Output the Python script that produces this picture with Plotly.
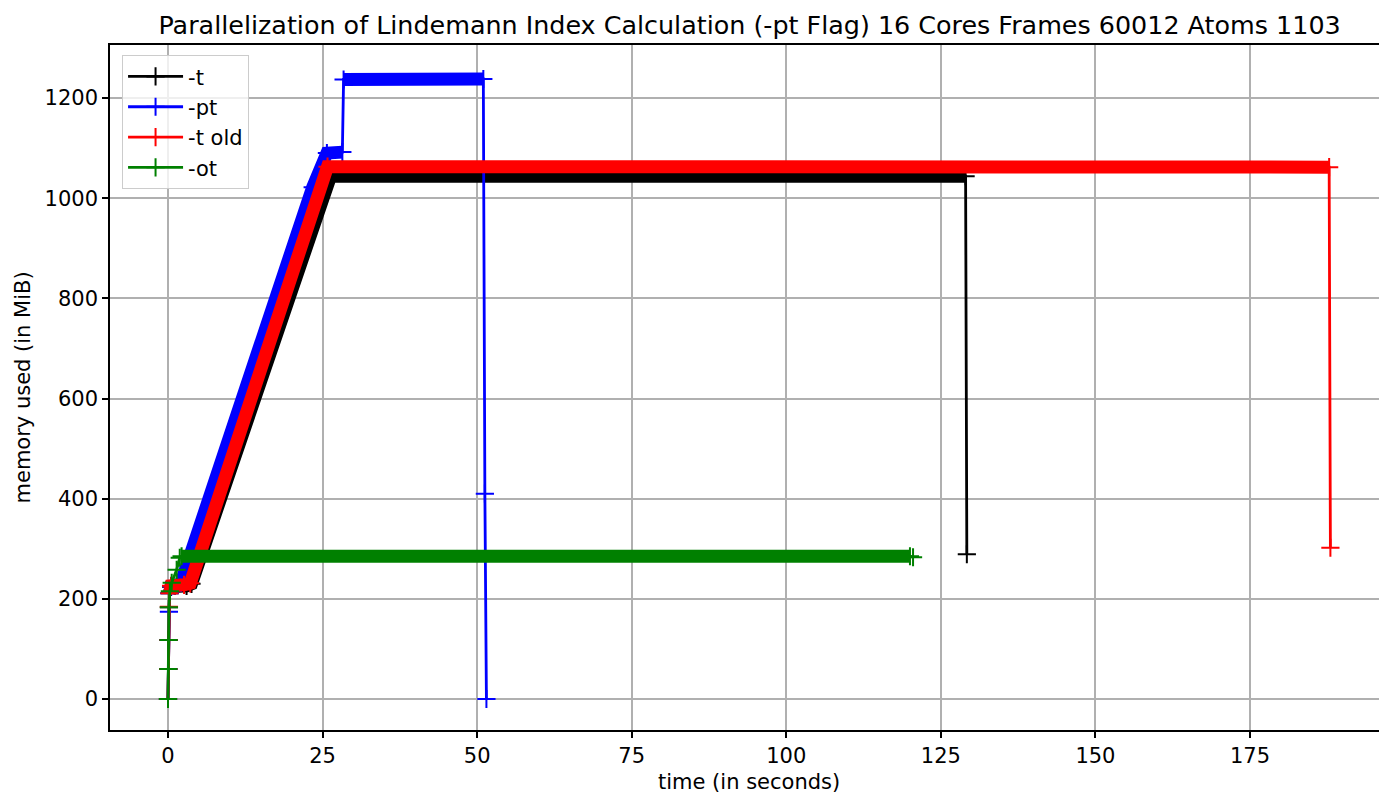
import plotly.graph_objects as go

# ---- data ----
black_t = [0, 0.05, 0.1, 0.15, 0.25, 0.5, 3.0, 3.8, 26.3, 129.0, 129.2]
black_m = [0, 60, 118, 183, 211, 224, 226, 230, 1044, 1044, 289]

blue_t = [0, 0.05, 0.1, 0.15, 0.25, 0.5, 1.6, 2.1, 23.4, 25.7, 28.2, 28.4, 51.0, 51.25, 51.5]
blue_m = [0, 60, 118, 174, 211, 225, 228, 232, 1022, 1090, 1092, 1237, 1238, 410, 0]

red_t = [0, 0.05, 0.1, 0.15, 0.25, 0.5, 2.6, 3.6, 25.8, 187.8, 188.0]
red_m = [0, 60, 118, 184, 211, 226, 228, 231, 1063, 1062, 302]

green_t = [0, 0.05, 0.1, 0.15, 0.3, 0.6, 1.4, 1.9, 2.2, 120.0, 120.5]
green_m = [0, 60, 118, 183, 215, 232, 258, 282, 285, 285, 283]

x_ticks = [0, 25, 50, 75, 100, 125, 150, 175]
y_ticks = [0, 200, 400, 600, 800, 1000, 1200]

# index ranges of densely sampled stretches (overlapping "+" markers form a band)
series = [
    ("-t", black_t, black_m, "black", [(4, 10)]),
    ("-pt", blue_t, blue_m, "blue", [(4, 11), (11, 13)]),
    ("-t old", red_t, red_m, "red", [(4, 10)]),
    ("-ot", green_t, green_m, "green", [(8, 10)]),
]

FONT = "DejaVu Sans"
FS = 21
fig = go.Figure()

for name, t, m, color, dense in series:
    bx, by = [], []
    for a, b in dense:
        bx += t[a:b] + [None]
        by += m[a:b] + [None]
    fig.add_trace(go.Scatter(
        x=bx, y=by, mode="lines", line=dict(color=color, width=13),
        showlegend=False, hoverinfo="skip", legendgroup=name,
    ))
    fig.add_trace(go.Scatter(
        x=t, y=m, mode="lines+markers", name=name, legendgroup=name,
        line=dict(color=color, width=2.8),
        marker=dict(symbol="cross-thin", size=13, line=dict(color=color, width=2)),
    ))

fig.update_layout(
    width=1379, height=793,
    margin=dict(l=110, r=0, t=45, b=63),
    paper_bgcolor="white", plot_bgcolor="white",
    font=dict(family=FONT, size=FS, color="black"),
    title=dict(
        text="Parallelization of Lindemann Index Calculation (-pt Flag) 16 Cores Frames 60012 Atoms 1103",
        x=0.504, xref="paper", xanchor="center",
        y=1 - 25 / 793, yref="container", yanchor="middle",
        font=dict(family=FONT, size=25.4, color="black"),
    ),
    legend=dict(
        x=0.0095, y=0.985, xanchor="left", yanchor="top",
        bgcolor="rgba(255,255,255,0.8)", bordercolor="#cccccc", borderwidth=1,
        font=dict(family=FONT, size=FS, color="black"),
        tracegroupgap=0, itemwidth=55,
    ),
    xaxis=dict(
        range=[-9.38, 195.86], tickvals=x_ticks, ticktext=[str(v) for v in x_ticks],
        ticks="outside", ticklen=6, tickwidth=1.5, tickcolor="black",
        showline=True, linecolor="black", linewidth=1.5, mirror=True,
        showgrid=True, gridcolor="#b0b0b0", gridwidth=1.5, zeroline=False,
        tickfont=dict(family=FONT, size=FS, color="black"),
    ),
    yaxis=dict(
        range=[-61.9, 1305.9], tickvals=y_ticks, ticktext=[str(v) for v in y_ticks],
        ticks="outside", ticklen=6, tickwidth=1.5, tickcolor="black",
        showline=True, linecolor="black", linewidth=1.5,
        showgrid=True, gridcolor="#b0b0b0", gridwidth=1.5, zeroline=False,
        tickfont=dict(family=FONT, size=FS, color="black"),
    ),
    annotations=[
        dict(text="time (in seconds)", xref="paper", yref="paper",
             x=(749 - 110) / 1269, y=(730 - 782) / 685, xanchor="center", yanchor="middle",
             showarrow=False, font=dict(family=FONT, size=FS, color="black")),
        dict(text="memory used (in MiB)", xref="paper", yref="paper",
             x=(22 - 110) / 1269, y=0.5, xanchor="center", yanchor="middle", textangle=-90,
             showarrow=False, font=dict(family=FONT, size=FS, color="black")),
    ],
)

fig.write_html("out.html")
